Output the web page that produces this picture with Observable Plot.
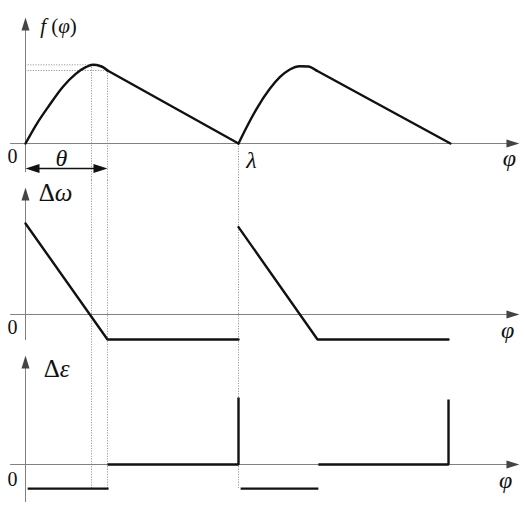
<!DOCTYPE html>
<html><head><meta charset="utf-8">
<script src="https://cdn.jsdelivr.net/npm/d3@7"></script>
<script src="https://cdn.jsdelivr.net/npm/@observablehq/plot@0.6"></script>
<style>
body{margin:0;background:#fff}
#chart{width:525px}
#chart svg{display:block;overflow:visible;background:transparent}
</style>
</head><body><div id="chart"></div>
<script>
// ---- data (phase φ in units of λ; each panel's value normalised) ----
// f(φ): rising parts (curved) of the two cycles
const fRisePhi1 = [0, 0.048, 0.111, 0.174, 0.236, 0.283, 0.315, 0.354, 0.385];
const fRiseVal1 = [0, 0.228, 0.481, 0.713, 0.882, 0.966, 0.996, 0.978, 0.924];
const fRisePhi2 = [1.0, 1.038, 1.085, 1.147, 1.194, 1.241, 1.288, 1.327, 1.366];
const fRiseVal2 = [0, 0.206, 0.439, 0.692, 0.839, 0.937, 0.978, 0.975, 0.924];
// f(φ): linear falling parts
const fFallPhi = [0.385, 1.0, 1.366, 1.995];
const fFallVal = [0.924, 0, 0.924, 0];
const fFallCycle = [1, 1, 2, 2];
// Δω
const dwPhi = [0, 0.385, 1.0, 1.0, 1.371, 1.986];
const dwVal = [1, -0.275, -0.275, 0.96, -0.275, -0.275];
const dwCycle = [1, 1, 1, 2, 2, 2];
// Δε
const dePhi = [0.01, 0.39, 0.385, 1.0, 1.0, 1.01, 1.375, 1.375, 1.986, 1.986];
const deVal = [-0.36, -0.36, 0, 0, 1.0, -0.36, -0.36, 0, 0, 0.97];
const deSeg = [1, 1, 2, 2, 2, 3, 3, 4, 4, 4];
// guide (dotted) lines
const guidePhi = [0.31, 0.385, 1.0];
const guideF = [0.996, 0.924, 0];
const deLow = -0.36;

const rows = (xs, ys, zs) => xs.map((x, i) => ({x, y: ys[i], z: zs ? zs[i] : 0}));

const W = 525;
const xDomain = [-25/213, 500/213];
const axisColor = "#808080";
const guide = {stroke: "#9a9a9a", strokeWidth: 1, strokeDasharray: "1.2,1.4"};
const ink = {stroke: "#111", strokeWidth: 2.4, strokeLinejoin: "miter"};
const serif = "Liberation Serif, 'Times New Roman', serif";
const font = {fontFamily: serif, fontSize: 20, fill: "#111"};
const greek = {fontFamily: serif, fontSize: 24, fill: "#111", fontStyle: "italic"};
const arrowHead = {draw(ctx) { ctx.moveTo(0, 0); ctx.lineTo(-4, 13); ctx.lineTo(4, 13); ctx.closePath(); }};
const bigHead = {draw(ctx) { ctx.moveTo(0, 0); ctx.lineTo(-4.5, 14); ctx.lineTo(4.5, 14); ctx.closePath(); }};

function axes(yBottom, yTip) {
  return [
    Plot.ruleX([0], {y1: yBottom, y2: yTip - 0.05, stroke: axisColor, strokeWidth: 1}),
    Plot.ruleY([0], {x1: -0.07, x2: 2.28, stroke: axisColor, strokeWidth: 1}),
    Plot.dot([{x: 0, y: yTip}], {x: "x", y: "y", symbol: arrowHead, r: 4, fill: "#444", stroke: "none"}),
    Plot.dot([{x: 2.319, y: 0}], {x: "x", y: "y", symbol: arrowHead, r: 4, rotate: 90, fill: "#444", stroke: "none"})
  ];
}

function panel(height, yDomain, marks) {
  return Plot.plot({
    width: W, height,
    marginTop: 0, marginBottom: 0, marginLeft: 0, marginRight: 0,
    x: {domain: xDomain, axis: null},
    y: {domain: yDomain, axis: null},
    style: {background: "transparent", overflow: "visible"},
    marks
  });
}

// ---- panel 1: f(φ) ----
const d1 = [-0.468, 1.810];
const p1 = panel(180, d1, [
  Plot.ruleX(guidePhi.map((x, i) => ({x, top: guideF[i]})), {x: "x", y1: "top", y2: d1[0], ...guide}),
  Plot.ruleY(guidePhi.slice(0, 2).map((x, i) => ({x, y: guideF[i]})), {y: "y", x1: 0, x2: "x", ...guide}),
  ...axes(-0.367, 1.595),
  Plot.line(rows(fRisePhi1, fRiseVal1), {x: "x", y: "y", curve: "monotone-x", ...ink}),
  Plot.line(rows(fRisePhi2, fRiseVal2), {x: "x", y: "y", curve: "monotone-x", ...ink}),
  Plot.line(rows(fFallPhi, fFallVal, fFallCycle), {x: "x", y: "y", z: "z", ...ink}),
  // θ double arrow
  Plot.ruleY([-0.316], {x1: 0.03, x2: 0.355, stroke: "#111", strokeWidth: 1.6}),
  Plot.dot([{x: 0, y: -0.316}], {x: "x", y: "y", symbol: bigHead, r: 4, rotate: -90, fill: "#111", stroke: "none"}),
  Plot.dot([{x: guidePhi[1], y: -0.316}], {x: "x", y: "y", symbol: bigHead, r: 4, rotate: 90, fill: "#111", stroke: "none"}),
  Plot.text(["0"], {x: -0.061, y: -0.165, ...font}),
  Plot.text(["θ"], {x: 0.169, y: -0.19, ...greek}),
  Plot.text(["λ"], {x: 1.061, y: -0.215, ...greek}),
  Plot.text(["φ"], {x: 2.272, y: -0.19, ...greek}),
  Plot.text(["f(φ)"], {x: 0.155, y: 1.48, ...font, fontSize: 21})
]);

// ---- panel 2: Δω ----
const d2 = [-0.341, 1.4725];
const p2 = panel(165, d2, [
  Plot.ruleX(guidePhi, {y1: d2[0], y2: d2[1], ...guide}),
  ...axes(-0.286, 1.396),
  Plot.line(rows(dwPhi, dwVal, dwCycle), {x: "x", y: "y", z: "z", ...ink}),
  Plot.text(["Δω"], {x: 0.141, y: 1.33, ...font, fontSize: 25}),
  Plot.text(["0"], {x: -0.061, y: -0.143, ...font}),
  Plot.text(["φ"], {x: 2.263, y: -0.176, ...greek})
]);

// ---- panel 3: Δε ----
const d3dom = [-0.642, 1.776];
const p3 = panel(162, d3dom, [
  Plot.ruleX(guidePhi, {y1: deLow, y2: d3dom[1], ...guide}),
  ...axes(-0.567, 1.627),
  Plot.line(rows(dePhi, deVal, deSeg), {x: "x", y: "y", z: "z", ...ink, strokeLinecap: "butt"}),
  Plot.text(["Δε"], {x: 0.146, y: 1.418, ...font, fontSize: 25}),
  Plot.text(["0"], {x: -0.061, y: -0.224, ...font}),
  Plot.text(["φ"], {x: 2.254, y: -0.239, ...greek})
]);

const chart = document.getElementById("chart");
[p1, p2, p3].forEach(p => chart.appendChild(p));

// mixed upright / italic glyphs inside labels
function styleLabel(svg, content, parts) {
  d3.select(svg).selectAll("text").filter(function() { return this.textContent === content; })
    .each(function() {
      const t = d3.select(this).text(null);
      parts.forEach(([s, it]) => t.append("tspan").attr("font-style", it ? "italic" : "normal").text(s));
    });
}
styleLabel(p1, "f(φ)", [["f", 1], [" (", 0], ["φ", 1], [")", 0]]);
styleLabel(p2, "Δω", [["Δ", 0], ["ω", 1]]);
styleLabel(p3, "Δε", [["Δ", 0], ["ε", 1]]);
</script></body></html>
